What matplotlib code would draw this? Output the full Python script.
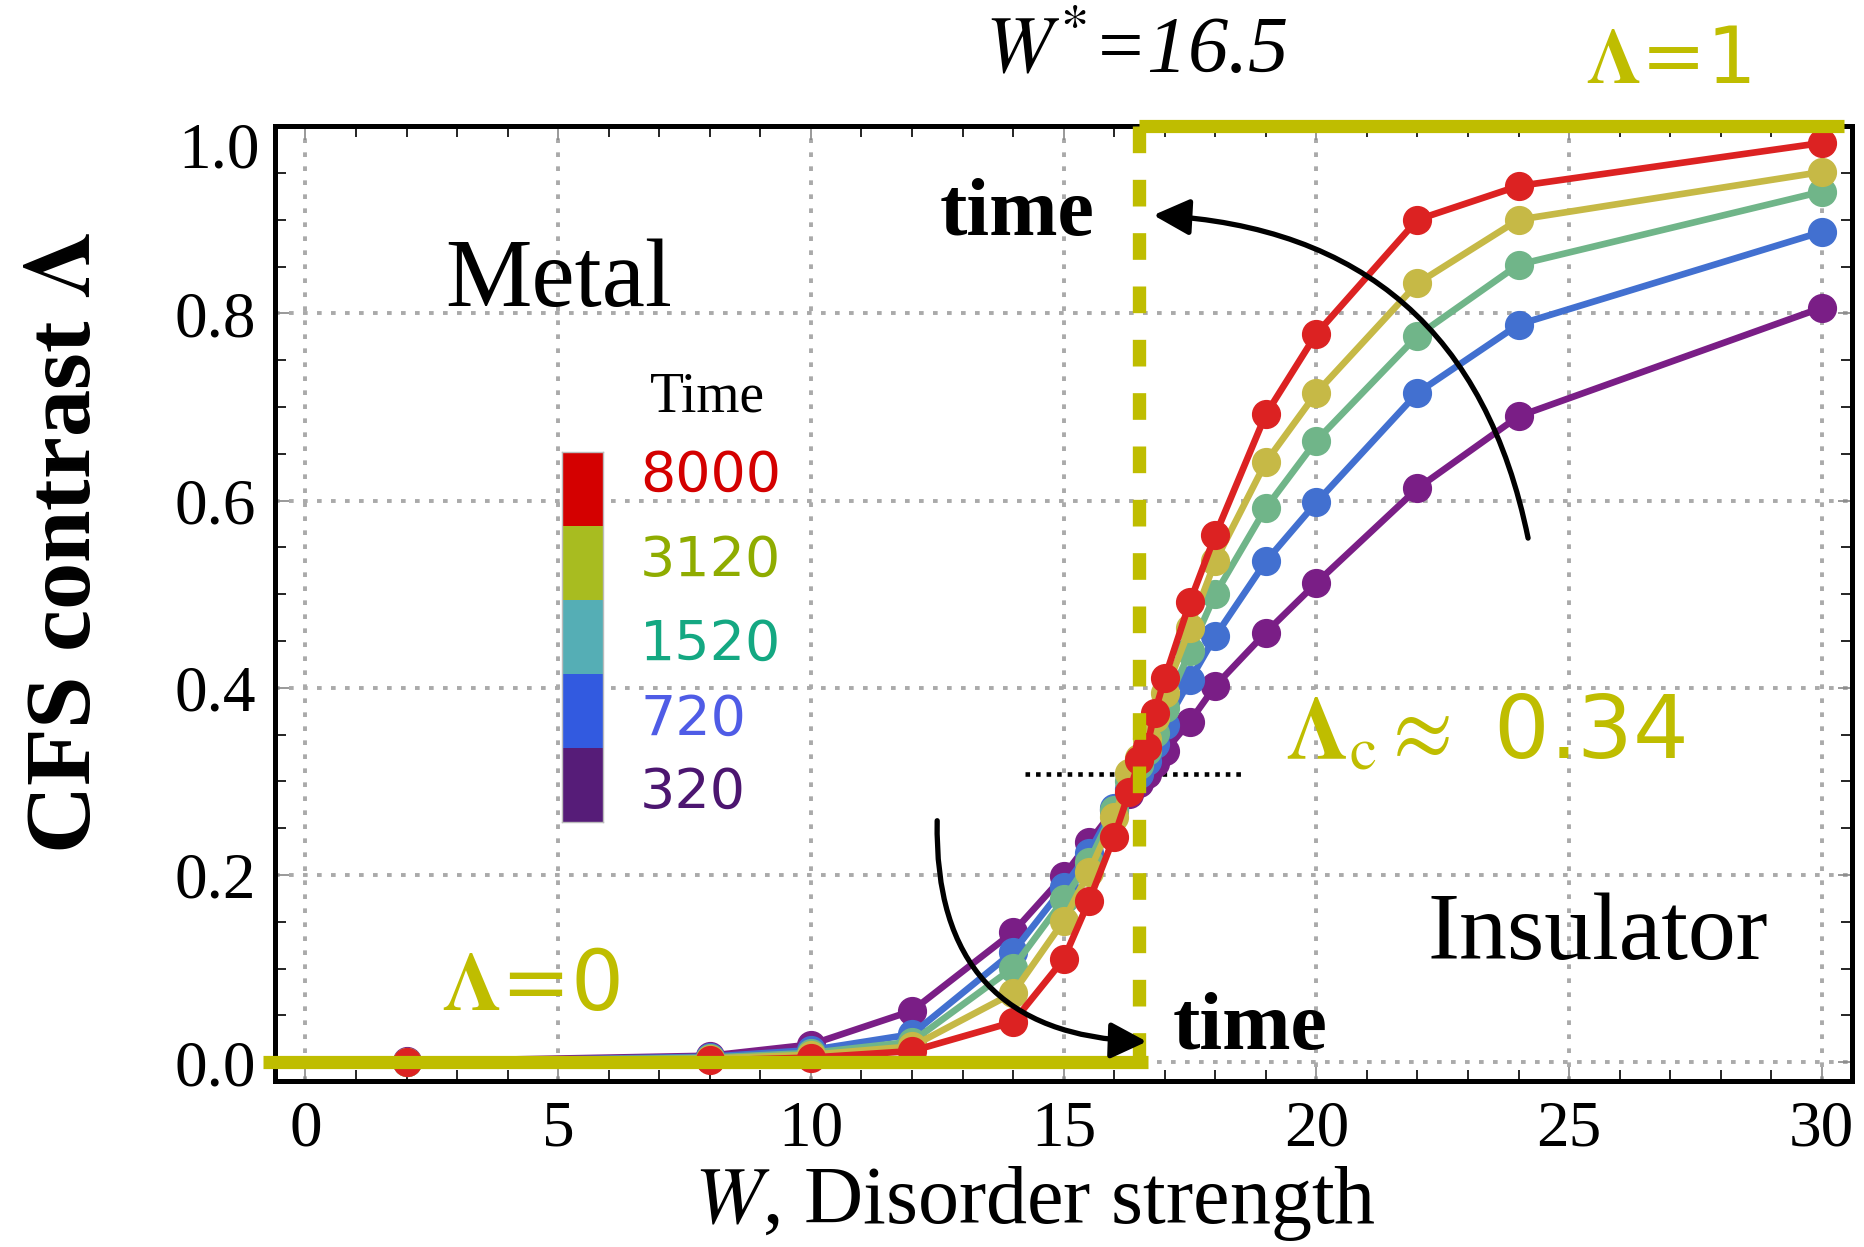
import matplotlib
matplotlib.use("Agg")
import matplotlib.pyplot as plt
from matplotlib.colors import ListedColormap
from matplotlib.patches import FancyArrowPatch
import numpy as np

plt.rcParams['font.family'] = ['Liberation Serif', 'DejaVu Sans']
plt.rcParams['mathtext.fontset'] = 'stix'

# Disorder strength values (same for every time)
W = [2, 8, 10, 12, 14, 15, 15.5, 16, 16.3, 16.5, 16.65, 16.8, 17, 17.5, 18, 19, 20, 22, 24, 30]

# CFS contrast for each time
lam_320 = [0.001, 0.007, 0.019, 0.055, 0.139, 0.199, 0.235, 0.270, 0.287, 0.298, 0.308, 0.320,
           0.332, 0.364, 0.402, 0.459, 0.512, 0.613, 0.690, 0.806]
lam_720 = [0.0, 0.006, 0.013, 0.030, 0.118, 0.187, 0.224, 0.272, 0.292, 0.308, 0.322, 0.340,
           0.360, 0.408, 0.455, 0.535, 0.598, 0.715, 0.788, 0.887]
lam_1520 = [0.0, 0.005, 0.010, 0.022, 0.101, 0.174, 0.214, 0.270, 0.300, 0.318, 0.333, 0.352,
            0.378, 0.439, 0.500, 0.592, 0.664, 0.776, 0.852, 0.930]
lam_3120 = [0.0, 0.004, 0.008, 0.017, 0.074, 0.151, 0.203, 0.262, 0.309, 0.325, 0.345, 0.368,
            0.394, 0.464, 0.535, 0.641, 0.715, 0.832, 0.900, 0.951]
lam_8000 = [0.0, 0.002, 0.005, 0.012, 0.043, 0.110, 0.172, 0.241, 0.289, 0.323, 0.337, 0.373,
            0.410, 0.492, 0.563, 0.692, 0.778, 0.900, 0.936, 0.982]

times = ["8000", "3120", "1520", "720", "320"]
W_star = 16.5
lam_c = 0.308

line_colors = ['#dc2222', '#c6b946', '#70b589', '#4270d0', '#7a1e86']
legend_colors = ['#d40000', '#a8bc20', '#55aeb5', '#325ae0', '#561c78']
label_colors = ['#d40000', '#8fac00', '#14a882', '#4f5ce6', '#4c1670']
olive = '#bfbd00'

fig = plt.figure(figsize=(18.65, 12.47), dpi=100)
ax = fig.add_axes([0.1475, 0.1331, 0.8456, 0.7658])

# Curves, oldest time drawn first so red sits on top
series = [lam_8000, lam_3120, lam_1520, lam_720, lam_320]
for vals, col in reversed(list(zip(series, line_colors))):
    ax.plot(W, vals, '-o', color=col, lw=4.8, ms=20, mec=col, zorder=3)

ax.set_xlim(-0.6, 30.6)
ax.set_ylim(-0.02, 1.0)

# Ticks and grid
ax.set_xticks([0, 5, 10, 15, 20, 25, 30])
ax.set_xticks(np.arange(0, 31, 1), minor=True)
ax.set_yticks([0.0, 0.2, 0.4, 0.6, 0.8, 1.0])
ax.set_yticklabels(['0.0', '0.2', '0.4', '0.6', '0.8', ''])
ax.set_yticks(np.arange(0, 1.001, 0.05), minor=True)
ax.tick_params(which='both', direction='in', top=True, right=True, labelsize=47)
ax.tick_params(which='major', length=10, width=1.2, pad=14, color='#888888')
ax.tick_params(which='minor', length=8, width=1.2)
ax.annotate('1.0', xy=(0, 1.0), xycoords='axes fraction', xytext=(-15, -26),
            textcoords='offset pixels', ha='right', va='center', fontsize=47)
ax.grid(True, which='major', color='#aaaaaa', lw=2.8, dashes=(1.2, 2.4))
ax.set_axisbelow(True)
for sp in ax.spines.values():
    sp.set_linewidth(3.6)

# Phase boundaries
ax.plot([W_star, W_star], [1.0, 0.0], color=olive, lw=9.6, dashes=(2, 2),
        dash_capstyle='butt', zorder=4)
ax.plot([-0.84, 16.67], [0.0, 0.0], color=olive, lw=9.5, solid_capstyle='butt',
        clip_on=False, zorder=5)
ax.plot([W_star, 30.44], [1.0, 1.0], color=olive, lw=9.5, solid_capstyle='butt',
        clip_on=False, zorder=5)
ax.plot([14.24, 18.6], [lam_c, lam_c], color='black', lw=3.3, dashes=(1, 1.3),
        dash_capstyle='butt', zorder=2)

# Texts
ax.text(16.44, 1.078, r'$W^{*}$=16.5', fontsize=58, ha='center', va='center',
        style='italic')
ax.text(25.33, 1.069, r'$\mathbf{\Lambda}$=1', fontsize=56, color=olive,
        ha='left', va='center', family='DejaVu Sans')
ax.text(2.70, 0.081, r'$\mathbf{\Lambda}$=0', fontsize=60, color=olive,
        ha='left', va='center', family='DejaVu Sans')
ax.text(19.39, 0.35, r'$\mathbf{\Lambda}_\mathrm{c}\approx$ 0.34', fontsize=63, color=olive,
        ha='left', va='center', family='DejaVu Sans')
ax.text(5.02, 0.833, 'Metal', fontsize=70, ha='center', va='center')
ax.text(25.56, 0.135, 'Insulator', fontsize=69, ha='center', va='center')
ax.text(14.08, 0.905, 'time', fontsize=59, weight='bold', ha='center', va='center')
ax.text(18.68, 0.035, 'time', fontsize=59, weight='bold', ha='center', va='center')

# Curved arrows
ax.add_patch(FancyArrowPatch((24.2, 0.557), (16.72, 0.905),
                             connectionstyle='arc3,rad=0.39',
                             arrowstyle='-|>,head_length=1.1,head_width=0.55',
                             color='black', lw=3.8, mutation_scale=20, zorder=6))
ax.add_patch(FancyArrowPatch((12.5, 0.261), (16.7, 0.022),
                             connectionstyle='arc3,rad=0.5',
                             arrowstyle='-|>,head_length=1.1,head_width=0.55',
                             color='black', lw=3.8, mutation_scale=20, zorder=6))

# Time legend as a stacked colour bar
ax.text(7.95, 0.71, 'Time', fontsize=40, ha='center', va='center')
cax = fig.add_axes([0.3013, 0.3408, 0.022, 0.2967])
cax.imshow(np.arange(len(times)).reshape(-1, 1), cmap=ListedColormap(legend_colors),
           aspect='auto', interpolation='nearest')
cax.set_xticks([])
cax.set_yticks([])
for sp in cax.spines.values():
    sp.set_color('#bbbbbb')
    sp.set_linewidth(1)
label_y = [0.627, 0.536, 0.446, 0.366, 0.288]
for t, yy, col in zip(times, label_y, label_colors):
    ax.text(6.62, yy, t, fontsize=40, color=col, ha='left', va='center',
            family='DejaVu Sans')

# Axis labels
fig.text(0.555, 0.0345, r'$W$, Disorder strength', fontsize=59, ha='center', va='center')
fig.text(0.036, 0.565, r'CFS contrast $\mathbf{\Lambda}$', fontsize=68, weight='bold',
         rotation=90, ha='center', va='center')

fig.savefig('out.png', dpi=100)
